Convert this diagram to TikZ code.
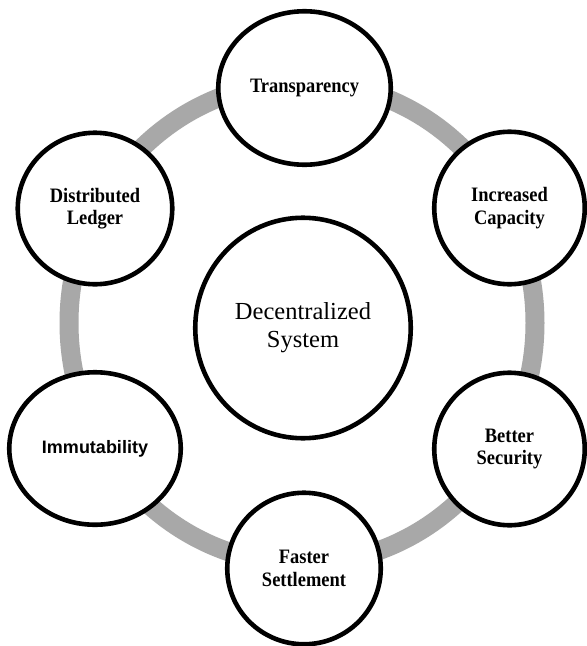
\documentclass[tikz,border=0pt]{standalone}
\usepackage{fontspec}
\setmainfont{Liberation Serif}
\newfontfamily\labfont[FakeStretch=0.9]{Liberation Serif}
\newfontfamily\sansbold{Liberation Sans}
\usetikzlibrary{shapes.geometric}
\definecolor{ringgray}{RGB}{168,168,168}
\tikzset{
  bub/.style={ellipse, draw=black, line width=4.6pt, fill=white, inner sep=0pt, align=center,
    font=\labfont\fontsize{20.5}{22.5}\selectfont\bfseries},
  ringline/.style={draw=ringgray, line width=19pt}
}
\begin{document}
\begin{tikzpicture}[x=1pt,y=-1pt]
\useasboundingbox[fill=white] (0,0) rectangle (587,646);
\draw[ringline] (302,323) ellipse [x radius=233, y radius=241];
\node[bub, minimum width=215.5pt, minimum height=220.5pt,
  font=\fontsize{24.5}{28}\selectfont] (center) at (303,328) {Decentralized\\System};
\node[bub, minimum width=172.5pt, minimum height=153.5pt] (transp) at (304.5,88) {Transparency};
\node[bub, minimum width=154.5pt, minimum height=151.5pt] (ledger) at (95,208.5) {Distributed\\Ledger};
\node[bub, minimum width=150.5pt, minimum height=152.5pt] (capacity) at (509.5,208) {Increased\\Capacity};
\node[bub, minimum width=150.5pt, minimum height=152.5pt] (security) at (509.5,449) {Better\\Security};
\node[bub, minimum width=153.5pt, minimum height=151.5pt] (settle) at (304,568.5) {Faster\\Settlement};
\node[bub, minimum width=171.5pt, minimum height=152.5pt,
  font=\sansbold\fontsize{18}{22}\selectfont\bfseries] (immut) at (95,448.5) {Immutability};
\end{tikzpicture}
\end{document}
